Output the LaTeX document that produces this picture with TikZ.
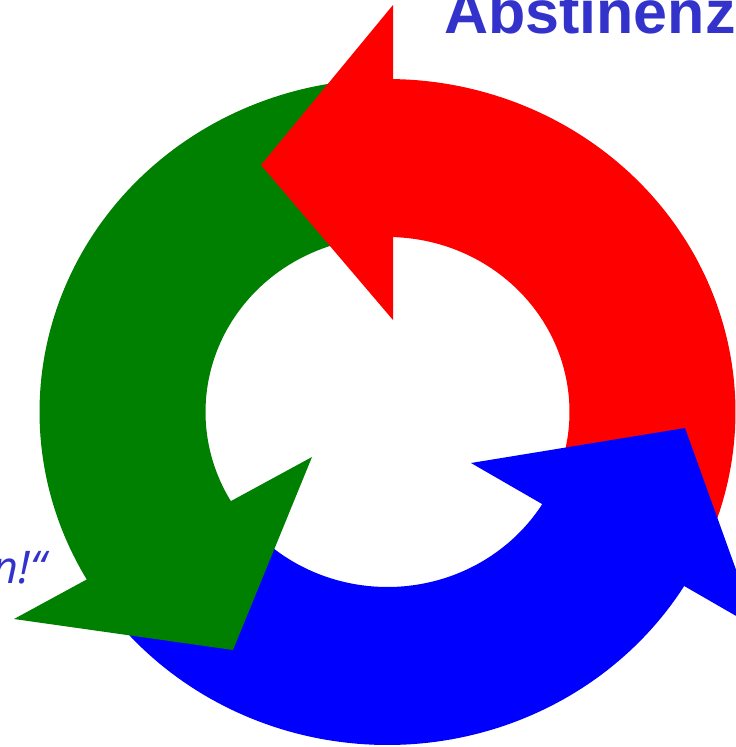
\documentclass[tikz,border=0pt]{standalone}
\usepackage{fontspec}
\setmainfont{Liberation Sans}
\newfontfamily\quotefont{Open Sans}
\definecolor{txtblue}{RGB}{51,51,204}
\definecolor{arrred}{RGB}{255,0,0}
\definecolor{arrgreen}{RGB}{0,128,0}
\definecolor{arrblue}{RGB}{0,0,255}
\tikzset{
  outerarc/.style={domain=#1, samples=90, variable=\t},
  headfill/.style={fill=#1, draw=none},
  lbl/.style={inner sep=0pt, text=txtblue}
}
\newcommand{\cxx}{387.5}
\newcommand{\cyy}{412}
\begin{document}
\begin{tikzpicture}[x=1pt, y=-1pt]
\useasboundingbox (0,0) rectangle (736,747);
\clip (0,0) rectangle (736,747);
% arrow bodies (ring segments)
\fill[arrred] plot[outerarc=-25:90] ({\cxx+348*cos(\t)},{\cyy-333*sin(\t)})
  -- plot[outerarc=90:-25] ({\cxx+182*cos(\t)},{\cyy-175*sin(\t)}) -- cycle;
\fill[arrgreen] plot[outerarc=95:212] ({\cxx+348*cos(\t)},{\cyy-333*sin(\t)})
  -- plot[outerarc=212:95] ({\cxx+182*cos(\t)},{\cyy-175*sin(\t)}) -- cycle;
\fill[arrblue] plot[outerarc=216:331] ({\cxx+348*cos(\t)},{\cyy-333*sin(\t)})
  -- plot[outerarc=331:216] ({\cxx+182*cos(\t)},{\cyy-175*sin(\t)}) -- cycle;
% arrow heads
\coordinate (rb1) at (393,5);
\coordinate (rt) at (261,165);
\coordinate (rb2) at (393,320);
\coordinate (gb1) at (312,457);
\coordinate (gt) at (233,650);
\coordinate (gb2) at (14,619);
\coordinate (bb1) at (471,463);
\coordinate (bt) at (685,428);
\coordinate (bb2) at (757,628);
\fill[headfill=arrred] (rb1) -- (rt) -- (rb2) -- cycle;
\fill[headfill=arrgreen] (gb1) -- (gt) -- (gb2) -- cycle;
\fill[headfill=arrblue] (bb1) -- (bt) -- (bb2) -- cycle;
% labels
\node[lbl, anchor=base west, font=\fontsize{61}{61}\selectfont\bfseries] (abst) at (444,33) {Abstinenz};
\node[lbl, anchor=base east, font=\quotefont\itshape\fontsize{45}{45}\selectfont] (quote) at (46,583) {n!“};
\end{tikzpicture}
\end{document}
